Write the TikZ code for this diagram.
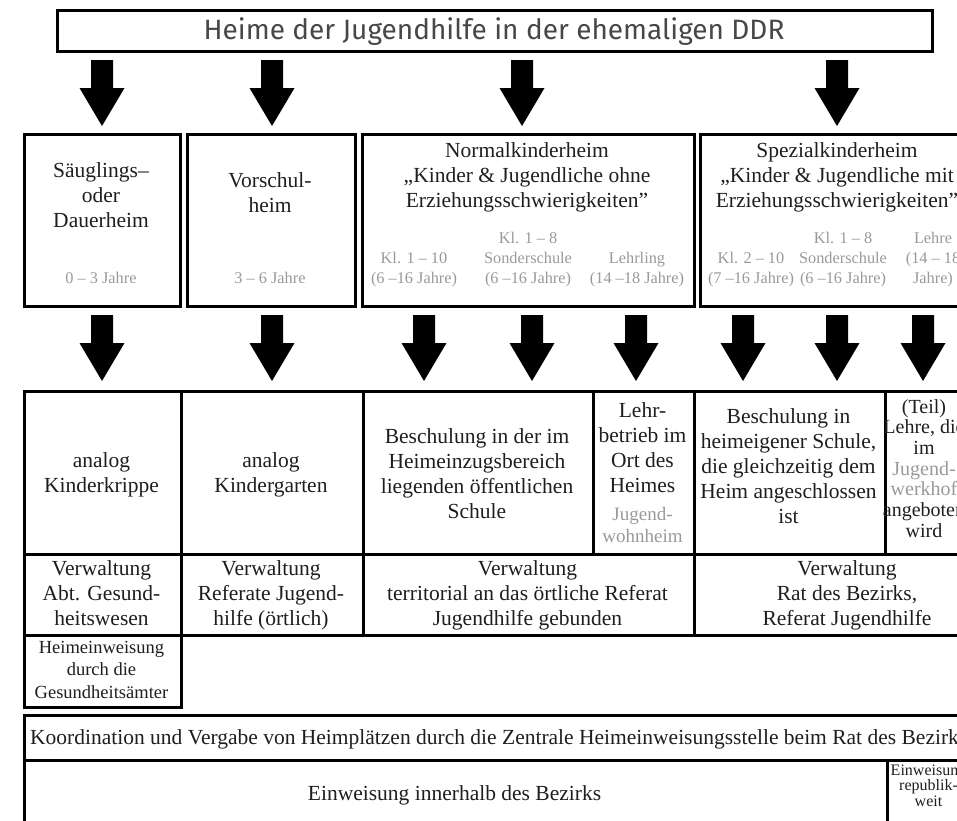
\documentclass[tikz,border=0pt]{standalone}
\usepackage{fontspec}
\setmainfont{Liberation Serif}
\newfontfamily\titlefont{Fira Sans}
\definecolor{txt}{HTML}{1E1E1E}
\definecolor{gtxt}{HTML}{999999}
\newcommand\ml[1]{\begin{tabular}[t]{@{}c@{}}#1\end{tabular}}
\begin{document}
\begin{tikzpicture}[x=1pt,y=-1pt,
  frame/.style={draw=black, line width=2.7pt, inner sep=0pt, anchor=north west},
  lbl/.style={inner sep=0pt, anchor=base, text=txt, font=\fontsize{21.5}{25}\selectfont},
  glbl/.style={inner sep=0pt, anchor=base, text=gtxt, font=\fontsize{16.3}{20}\selectfont},
  slbl/.style={inner sep=0pt, anchor=base, text=txt, font=\fontsize{18.5}{22.5}\selectfont},
  tlbl/.style={inner sep=0pt, anchor=base, text=black!72, font=\titlefont\fontsize{28}{32}\selectfont},
  downarrow/.pic={\fill[black] (-11,0) -- (11,0) -- (11,28) -- (22.5,28) -- (0,66) -- (-22.5,28) -- (-11,28) -- cycle;}
]
\useasboundingbox (0,0) rectangle (957,820);
\clip (0,0) rectangle (957,820);

% title
\node[frame, minimum width=875pt, minimum height=41pt] (title) at (56,9) {};
\node[tlbl] (titletext) at (494,39) {Heime der Jugendhilfe in der ehemaligen DDR};

% top arrows
\pic at (102,60) {downarrow};
\pic at (272,60) {downarrow};
\pic at (522,60) {downarrow};
\pic at (837,60) {downarrow};

% row 1 boxes
\node[frame, minimum width=156pt, minimum height=172pt] (b1) at (23,133) {};
\node[frame, minimum width=168pt, minimum height=172pt] (b2) at (186,133) {};
\node[frame, minimum width=332pt, minimum height=172pt] (b3) at (361,133) {};
\node[frame, minimum width=276pt, minimum height=172pt] (b4) at (699,133) {};

\node[lbl] (b1t) at (101,177) {\ml{Säuglings–\\oder\\Dauerheim}};
\node[glbl] (b1g) at (101,283) {0 – 3 Jahre};
\node[lbl] (b2t) at (270,187) {\ml{Vorschul-\\heim}};
\node[glbl] (b2g) at (270,283) {3 – 6 Jahre};

\node[lbl] (b3t) at (527,157) {\ml{Normalkinderheim\\„Kinder \& Jugendliche ohne\\Erziehungsschwierigkeiten”}};
\node[glbl] (b3a) at (414,263) {\ml{Kl. 1 – 10\\(6 –16 Jahre)}};
\node[glbl] (b3b) at (528,243) {\ml{Kl. 1 – 8\\Sonderschule\\(6 –16 Jahre)}};
\node[glbl] (b3c) at (637,263) {\ml{Lehrling\\(14 –18 Jahre)}};

\node[lbl] (b4t) at (837,157) {\ml{Spezialkinderheim\\„Kinder \& Jugendliche mit\\Erziehungsschwierigkeiten”}};
\node[glbl] (b4a) at (751,263) {\ml{Kl. 2 – 10\\(7 –16 Jahre)}};
\node[glbl] (b4b) at (843,243) {\ml{Kl. 1 – 8\\Sonderschule\\(6 –16 Jahre)}};
\node[glbl] (b4c) at (933,243) {\ml{Lehre\\(14 – 18\\Jahre)}};

% second arrows
\foreach \xx in {102,272,424,532,636,743,837,923} { \pic at (\xx,315) {downarrow}; }

% table row
\node[frame, minimum width=157pt, minimum height=163pt] (c1) at (23,390) {};
\node[frame, minimum width=182pt, minimum height=163pt] (c2) at (180,390) {};
\node[frame, minimum width=230pt, minimum height=163pt] (c3) at (362,390) {};
\node[frame, minimum width=101pt, minimum height=163pt] (c4) at (592,390) {};
\node[frame, minimum width=191pt, minimum height=163pt] (c5) at (693,390) {};
\node[frame, minimum width=100pt, minimum height=163pt] (c6) at (884,390) {};

\node[lbl] (c1t) at (101.5,467) {\ml{analog\\Kinderkrippe}};
\node[lbl] (c2t) at (271,467) {\ml{analog\\Kindergarten}};
\node[lbl] (c3t) at (477,443) {\ml{Beschulung in der im\\Heimeinzugsbereich\\liegenden öffentlichen\\Schule}};
\node[lbl] (c4t) at (642.5,417) {\ml{Lehr-\\betrieb im\\Ort des\\Heimes}};
\node[inner sep=0pt, anchor=base, text=gtxt, font=\fontsize{19}{22}\selectfont] (c4g) at (642.5,520) {\ml{Jugend-\\wohnheim}};
\node[lbl] (c5t) at (788.5,423) {\ml{Beschulung in\\heimeigener Schule,\\die gleichzeitig dem\\Heim angeschlossen\\ist}};
\node[inner sep=0pt, anchor=base, font=\fontsize{20}{20.7}\selectfont] (c6t) at (924,413) {\ml{\color{txt}(Teil)\\\color{txt}Lehre, die\\\color{txt}im\\\color{gtxt}Jugend-\\\color{gtxt}werkhof\\\color{txt}angeboten\\\color{txt}wird}};

% Verwaltung row
\node[frame, minimum width=157pt, minimum height=81pt] (v1) at (23,553) {};
\node[frame, minimum width=182pt, minimum height=81pt] (v2) at (180,553) {};
\node[frame, minimum width=331pt, minimum height=81pt] (v3) at (362,553) {};
\node[frame, minimum width=320pt, minimum height=81pt] (v4) at (693,553) {};

\node[lbl] (v1t) at (101.5,575) {\ml{Verwaltung\\Abt. Gesund-\\heitswesen}};
\node[lbl] (v2t) at (271,575) {\ml{Verwaltung\\Referate Jugend-\\hilfe (örtlich)}};
\node[lbl] (v3t) at (527.5,575) {\ml{Verwaltung\\territorial an das örtliche Referat\\Jugendhilfe gebunden}};
\node[lbl] (v4t) at (847,575) {\ml{Verwaltung\\Rat des Bezirks,\\Referat Jugendhilfe}};

\node[frame, minimum width=157pt, minimum height=72pt] (h1) at (23,634) {};
\node[slbl] (h1t) at (101.5,653) {\ml{Heimeinweisung\\durch die\\Gesundheitsämter}};

% bottom
\node[frame, minimum width=1000pt, minimum height=45pt] (k) at (23,714) {};
\node[lbl, anchor=base west] (kt) at (30,744) {Koordination und Vergabe von Heimplätzen durch die Zentrale Heimeinweisungsstelle beim Rat des Bezirks};
\node[frame, minimum width=863pt, minimum height=100pt] (e1) at (23,759) {};
\node[frame, minimum width=120pt, minimum height=100pt] (e2) at (886,759) {};
\node[lbl] (e1t) at (454.5,800) {Einweisung innerhalb des Bezirks};
\node[inner sep=0pt, anchor=base, text=txt, font=\fontsize{16}{15.5}\selectfont] (e2t) at (928.5,775) {\ml{Einweisung\\republik-\\weit}};
\end{tikzpicture}
\end{document}
